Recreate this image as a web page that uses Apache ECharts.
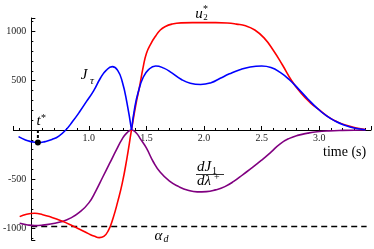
<!DOCTYPE html>
<html><head><meta charset="utf-8">
<script src="https://cdn.jsdelivr.net/npm/echarts@6/dist/echarts.min.js"></script>
<style>html,body{margin:0;padding:0;background:#fff}#c{width:374px;height:249px}</style>
</head><body><div id="c"></div>
<script>
// ---- data ----
const tRange = [0.345, 3.448];
const vRange = [-1117, 1137];
const yAxisAt = 0.5;
const xTickLabels = ['1.0', '1.5', '2.0', '2.5', '3.0'];
const yTickLabels = ['-1000', '-500', '500', '1000'];

// J_tau (blue), split at the cusp
const blueLeftT = [0.39, 0.45, 0.50, 0.56, 0.62, 0.68, 0.74, 0.80, 0.86, 0.92, 0.98, 1.04, 1.10, 1.15, 1.204, 1.25, 1.29, 1.33, 1.37];
const blueLeftV = [-68, -102, -118, -128, -118, -97, -62, 0, 88, 185, 290, 395, 525, 605, 643, 605, 490, 280, 0];
const blueRightT = [1.37, 1.40, 1.43, 1.47, 1.52, 1.58, 1.65, 1.72, 1.80, 1.88, 1.97, 2.06, 2.14, 2.22, 2.31, 2.40, 2.50, 2.58, 2.66, 2.74, 2.82, 2.90, 2.98, 3.06, 3.14, 3.22, 3.30, 3.40];
const blueRightV = [0, 240, 390, 530, 615, 650, 628, 580, 515, 475, 462, 480, 525, 570, 612, 640, 650, 635, 585, 510, 415, 315, 222, 145, 88, 48, 20, 3];

// u2* (red)
const redT = [0.40, 0.46, 0.53, 0.60, 0.68, 0.76, 0.84, 0.92, 1.00, 1.05, 1.09, 1.13, 1.17, 1.21, 1.25, 1.29, 1.33, 1.37, 1.41, 1.44, 1.47, 1.50, 1.54, 1.58, 1.62, 1.66, 1.72, 1.80, 1.90, 2.00, 2.10, 2.20, 2.28, 2.36, 2.44, 2.52, 2.60, 2.68, 2.76, 2.84, 2.92, 3.00, 3.08, 3.16, 3.24, 3.32, 3.40];
const redV = [-880, -855, -846, -860, -888, -922, -962, -1008, -1055, -1080, -1093, -1080, -1020, -895, -730, -540, -290, 0, 271, 440, 630, 779, 880, 955, 1015, 1049, 1075, 1088, 1090, 1090, 1090, 1086, 1075, 1058, 1015, 935, 810, 660, 500, 375, 278, 203, 130, 80, 45, 20, 5];

// dJ1/dlambda+ (purple)
const purpleT = [0.40, 0.46, 0.53, 0.60, 0.68, 0.76, 0.84, 0.92, 1.00, 1.06, 1.12, 1.18, 1.24, 1.29, 1.33, 1.37, 1.41, 1.45, 1.50, 1.56, 1.62, 1.70, 1.78, 1.86, 1.94, 2.02, 2.10, 2.18, 2.26, 2.34, 2.42, 2.50, 2.58, 2.66, 2.74, 2.82, 2.90, 2.98, 3.08, 3.20, 3.40];
const purpleV = [-947, -962, -971, -966, -952, -932, -895, -835, -740, -620, -480, -340, -200, -90, -30, 0, -28, -95, -185, -325, -430, -520, -575, -612, -628, -626, -608, -575, -520, -450, -380, -305, -225, -140, -85, -52, -32, -18, -9, -4, 0];

const alphaD = -980;
const alphaDSpan = [0.5, 3.41];
const tStar = 0.558;
const tStarV = -128;

// ---- chart ----
const zip = (a, b) => a.map((x, i) => [x, b[i]]);
const FONT = '"Liberation Serif", "Times New Roman", serif';
const W = 374, H = 249;
const grid = { left: 12, right: 2, top: 18, bottom: 9 };
const gridW = W - grid.left - grid.right;
const gridH = H - grid.top - grid.bottom;
const yOffset = -(yAxisAt - tRange[0]) / (tRange[1] - tRange[0]) * gridW;
const xOffset = -(0 - vRange[0]) / (vRange[1] - vRange[0]) * gridH;

const curve = (data, color) => ({
  type: 'line', data, smooth: 0.5, showSymbol: false, symbol: 'none',
  lineStyle: { color, width: 1.6 }, silent: true, animation: false
});

const chart = echarts.init(document.getElementById('c'), null, { renderer: 'canvas' });

function txt(x, y, s, size, italic, align) {
  return { type: 'text', x, y, silent: true, z: 100,
    style: { text: s, fontSize: size, fontFamily: FONT, fontStyle: italic ? 'italic' : 'normal',
      fill: '#000', align: align || 'center', verticalAlign: 'middle' } };
}

chart.setOption({
  animation: false,
  grid,
  xAxis: {
    type: 'value', min: tRange[0], max: tRange[1], splitNumber: 6,
    position: 'bottom', offset: xOffset,
    axisLine: { onZero: false, lineStyle: { color: '#000', width: 1 } },
    axisTick: { inside: true, length: 4, lineStyle: { color: '#000' } },
    minorTick: { show: true, splitNumber: 5, length: 2, lineStyle: { color: '#000' } },
    splitLine: { show: false },
    axisLabel: {
      margin: 3, fontSize: 10, fontFamily: FONT, color: '#222',
      showMinLabel: true, showMaxLabel: true,
      formatter: v => { const s = (Math.round(v * 10) / 10).toFixed(1); return (xTickLabels.includes(s) && Math.abs(v - parseFloat(s)) < 1e-6) ? s : ''; }
    }
  },
  yAxis: {
    type: 'value', min: vRange[0], max: vRange[1], splitNumber: 5,
    position: 'left', offset: yOffset,
    axisLine: { show: true, onZero: false, lineStyle: { color: '#000', width: 1 } },
    axisTick: { show: true, inside: true, length: 4, lineStyle: { color: '#000' } },
    minorTick: { show: true, splitNumber: 5, length: 2, lineStyle: { color: '#000' } },
    splitLine: { show: false },
    axisLabel: {
      margin: 5, fontSize: 10, fontFamily: FONT, color: '#222',
      showMinLabel: true, showMaxLabel: true,
      formatter: v => yTickLabels.includes(String(v)) ? String(v) : ''
    }
  },
  series: [
    {
      type: 'line', silent: true, animation: false, symbol: 'none', showSymbol: false,
      data: [[alphaDSpan[0], alphaD], [alphaDSpan[1], alphaD]],
      lineStyle: { color: '#000', type: [6, 4], width: 1.5 }
    },
    curve(zip(purpleT, purpleV), '#800080'),
    curve(zip(redT, redV), '#ff0000'),
    curve(zip(blueLeftT, blueLeftV), '#0000ff'),
    curve(zip(blueRightT, blueRightV), '#0000ff'),
    {
      type: 'line', silent: true, animation: false, z: 5,
      data: [{ value: [tStar, 0], symbol: 'none' }, { value: [tStar, tStarV], symbol: 'circle', symbolSize: 6 }],
      showSymbol: true, itemStyle: { color: '#000' },
      lineStyle: { color: '#000', width: 2, type: [3, 2] }
    }
  ],
  graphic: [
    // J_tau
    txt(84, 75, 'J', 15, true), txt(92, 81.5, 'τ', 11, true),
    // u2*
    txt(199, 14, 'u', 15, true), txt(205.5, 17.5, '2', 9, false), txt(205.5, 9, '*', 10, false),
    // t*
    txt(38.5, 121.5, 't', 15, true), txt(43.5, 118, '*', 10, false),
    // alpha_d
    txt(158.5, 236, 'α', 15, true), txt(166, 239.5, 'd', 10, true),
    // dJ1 / dlambda+
    txt(197, 167.5, 'dJ', 15, true, 'left'), txt(212, 171, '1', 10, false, 'left'),
    { type: 'line', silent: true, z: 100, shape: { x1: 196, y1: 174.5, x2: 224, y2: 174.5 }, style: { stroke: '#000', lineWidth: 0.8 } },
    txt(197, 181, 'dλ', 15, true, 'left'), txt(214, 177.5, '+', 10, false, 'left'),
    // axis name
    txt(323, 152, 'time (s)', 14, false, 'left')
  ]
});
</script></body></html>
